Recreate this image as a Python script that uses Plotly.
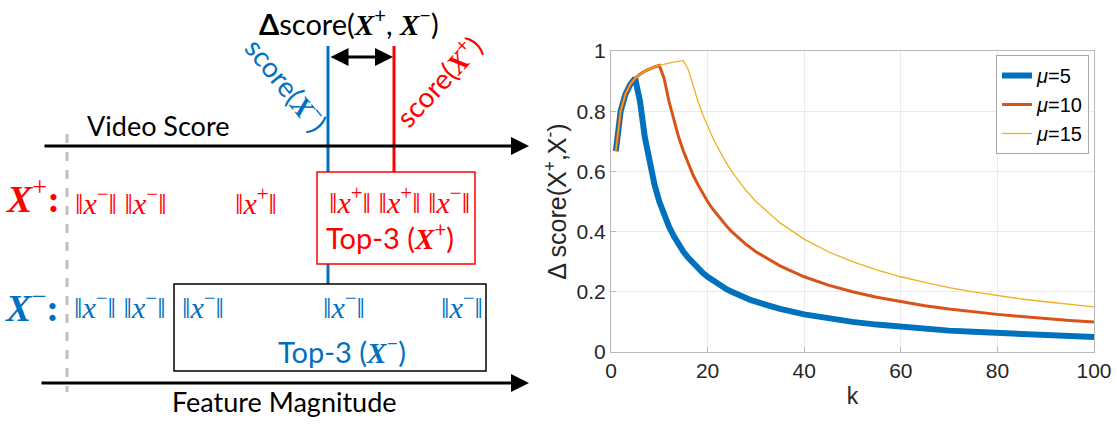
import plotly.graph_objects as go

W, H = 1117, 426

# ---------------- data ----------------
k = list(range(1, 31)) + [35, 40, 45, 50, 55, 60, 65, 70, 75, 80, 85, 90, 95, 100]

mu5 = [0.667, 0.800, 0.857, 0.889, 0.909, 0.833, 0.714, 0.625, 0.556, 0.500,
       0.455, 0.417, 0.385, 0.357, 0.333, 0.313, 0.294, 0.278, 0.263, 0.250,
       0.238, 0.227, 0.217, 0.208, 0.200, 0.192, 0.185, 0.179, 0.172, 0.167,
       0.143, 0.125, 0.111, 0.100, 0.091, 0.083, 0.077, 0.071, 0.067, 0.063,
       0.059, 0.056, 0.053, 0.050]

mu10 = [0.667, 0.800, 0.857, 0.889, 0.909, 0.923, 0.933, 0.941, 0.947, 0.952,
        0.909, 0.833, 0.769, 0.714, 0.667, 0.625, 0.588, 0.556, 0.526, 0.500,
        0.476, 0.455, 0.435, 0.417, 0.400, 0.385, 0.370, 0.357, 0.345, 0.333,
        0.286, 0.250, 0.222, 0.200, 0.182, 0.167, 0.154, 0.143, 0.133, 0.125,
        0.118, 0.111, 0.105, 0.100]

mu15 = [0.667, 0.800, 0.857, 0.889, 0.909, 0.923, 0.933, 0.941, 0.947, 0.952,
        0.957, 0.960, 0.963, 0.966, 0.968, 0.938, 0.882, 0.833, 0.789, 0.750,
        0.714, 0.682, 0.652, 0.625, 0.600, 0.577, 0.556, 0.536, 0.517, 0.500,
        0.429, 0.375, 0.333, 0.300, 0.273, 0.250, 0.231, 0.214, 0.200, 0.188,
        0.176, 0.167, 0.158, 0.150]

mu_labels = ["5", "10", "15"]
series_values = [mu5, mu10, mu15]
series_colors = ["#0072BD", "#D95319", "#EDB120"]
series_widths = [6, 3, 1.3]

x_ticks = [0, 20, 40, 60, 80, 100]
y_ticks = [0, 0.2, 0.4, 0.6, 0.8, 1]
y_tick_text = ["0", "0.2", "0.4", "0.6", "0.8", "1"]


def sty(txt, size, bold=False, italic=False, family=None):
    """Styled run with explicit size (span with inline css)."""
    css = "font-size:%spx" % size
    if bold:
        css += ";font-weight:bold"
    if italic:
        css += ";font-style:italic"
    if family:
        css += ";font-family:" + family
    return "<span style='" + css + "'>" + txt + "</span>"


# ---------------- figure ----------------
ARIAL = "Liberation Sans, Arial, sans-serif"
LEG_SIZE = 20

fig = go.Figure()
for lab, vals, col, wd in zip(mu_labels, series_values, series_colors, series_widths):
    fig.add_trace(go.Scatter(x=k, y=vals, mode="lines",
                             name=sty("μ", LEG_SIZE, italic=True) + "=" + lab,
                             line=dict(color=col, width=wd)))

TICKFONT = dict(family=ARIAL, size=21, color="#262626")
AXCOL = "#b8b8b8"

fig.update_layout(
    width=W, height=H,
    margin=dict(l=0, r=0, t=0, b=0, autoexpand=False),
    paper_bgcolor="white", plot_bgcolor="white",
    showlegend=True,
    legend=dict(x=1089 / W, y=1 - 55 / H, xanchor="right", yanchor="top",
                bgcolor="white", bordercolor="#a8a8a8", borderwidth=1,
                font=dict(family=ARIAL, size=LEG_SIZE, color="#000"),
                itemwidth=30, tracegroupgap=0),
    xaxis=dict(domain=[611 / W, 1094 / W], range=[0, 100], automargin=False,
               tickvals=x_ticks, ticktext=[str(v) for v in x_ticks],
               showgrid=True, gridcolor="#ebebeb", gridwidth=1,
               showline=True, linecolor=AXCOL, linewidth=1, mirror=True,
               ticks="inside", ticklen=5, tickcolor=AXCOL,
               zeroline=False, tickfont=TICKFONT,
               title=dict(text="k", font=dict(family=ARIAL, size=23, color="#262626"),
                          standoff=6)),
    yaxis=dict(domain=[1 - 352 / H, 1 - 51 / H], range=[0, 1], automargin=False,
               tickvals=y_ticks, ticktext=y_tick_text,
               showgrid=True, gridcolor="#ebebeb", gridwidth=1,
               showline=True, linecolor=AXCOL, linewidth=1, mirror=True,
               ticks="inside", ticklen=5, tickcolor=AXCOL,
               zeroline=False, tickfont=TICKFONT,
               title=dict(text="Δ score(X<sup>+</sup>,X<sup>-</sup>)",
                          font=dict(family=ARIAL, size=25, color="#262626"), standoff=2)),
)

# ---------------- left illustration (pixel helpers) ----------------
def px(x):
    return x / W

def py(y):
    return 1 - y / H

RED = "#FF0000"
BLUE = "#0070C0"
SANS = "Lato, Open Sans, sans-serif"
SERIF = "Liberation Serif, DejaVu Serif, serif"

def line(x0, y0, x1, y1, color, width, dash="solid"):
    fig.add_shape(type="line", xref="paper", yref="paper",
                  x0=px(x0), y0=py(y0), x1=px(x1), y1=py(y1),
                  line=dict(color=color, width=width, dash=dash))

def rect(x0, y0, x1, y1, color):
    fig.add_shape(type="rect", xref="paper", yref="paper",
                  x0=px(x0), y0=py(y0), x1=px(x1), y1=py(y1),
                  line=dict(color=color, width=1.5), fillcolor="white")

def text(x, y, s, color="#000", size=27, family=SANS, angle=0, xanchor="center"):
    fig.add_annotation(xref="paper", yref="paper", x=px(x), y=py(y), text=s,
                       showarrow=False, textangle=angle, xanchor=xanchor, yanchor="middle",
                       font=dict(family=family, size=size, color=color))

def arrow(x_tip, y, x_tail, both=False):
    fig.add_annotation(xref="paper", yref="paper", x=px(x_tip), y=py(y),
                       ax=x_tail - x_tip, ay=0, text="", showarrow=True,
                       arrowhead=2, arrowsize=1.2, arrowwidth=3, arrowcolor="#000",
                       arrowside="end+start" if both else "end", standoff=0, startstandoff=0)

# gray dashed separator
line(67, 134, 67, 392, "#BFBFBF", 3, "dash")
# score lines
line(328, 46, 328, 284, BLUE, 3)
line(394, 46, 394, 172, RED, 3)
# boxes
rect(317, 172, 475, 264, RED)
rect(174, 284, 486, 371, "#000")
# arrows
arrow(529, 146, 43)
arrow(529, 383, 40)
arrow(393, 57, 329, both=True)

def bX(sign, size):
    return sty("X", size, bold=True, italic=True, family="Liberation Serif") + "<sup>" + sign + "</sup>"

def norm(sign, size):
    return "‖" + sty("x", size, italic=True) + "<sup>" + sign + "</sup>‖"

T = 29
text(349, 22, sty("Δ", T, bold=True) + "score(" + bX("+", T) + ", " + bX("−", T) + ")", size=T)
R = 28
text(287, 84, "score(" + bX("−", R) + ")", color=BLUE, size=R, angle=51)
text(438, 81, "score(" + bX("+", R) + ")", color=RED, size=R, angle=-47)
text(85, 125, "Video Score", size=27, xanchor="left")
text(284, 401, "Feature Magnitude", size=27)

B = 38
text(33, 196, sty("X", B, bold=True, italic=True) + "<sup>+</sup>" + sty(":", B, bold=True),
     color=RED, size=B, family=SERIF)
text(32, 305, sty("X", B, bold=True, italic=True) + "<sup>−</sup>" + sty(":", B, bold=True),
     color=BLUE, size=B, family=SERIF)

NS = 30
GAP = " "
text(121, 201, norm("−", NS) + GAP + norm("−", NS), color=RED, size=NS, family=SERIF)
text(256, 201, norm("+", NS), color=RED, size=NS, family=SERIF)
text(399, 200, norm("+", NS) + GAP + norm("+", NS) + GAP + norm("−", NS),
     color=RED, size=NS, family=SERIF)
TP = 29
text(390, 236, "Top-3 (" + bX("+", TP) + ")", color=RED, size=TP)

text(120, 305, norm("−", NS) + GAP + norm("−", NS), color=BLUE, size=NS, family=SERIF)
text(203, 305, norm("−", NS), color=BLUE, size=NS, family=SERIF)
text(344, 305, norm("−", NS), color=BLUE, size=NS, family=SERIF)
text(462, 305, norm("−", NS), color=BLUE, size=NS, family=SERIF)
text(342, 350, "Top-3 (" + bX("−", TP) + ")", color=BLUE, size=TP)

post = (
    "document.body.style.margin='0px';"
    "document.querySelectorAll('svg text, svg tspan').forEach(function(t){"
    "var fs=window.getComputedStyle(t).fontSize; if(fs){t.setAttribute('font-size', fs);}});"
)
fig.write_html("out.html", config={"displayModeBar": False}, post_script=post)
